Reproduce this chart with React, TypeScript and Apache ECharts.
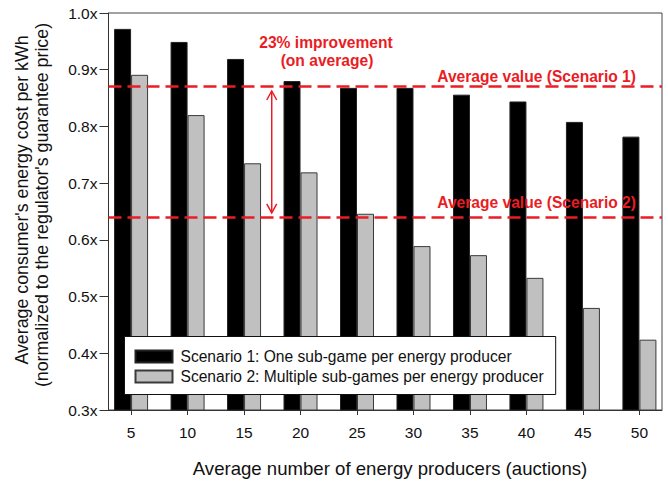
import React, { useEffect, useRef } from "react";
import * as echarts from "echarts";

const producers = [5, 10, 15, 20, 25, 30, 35, 40, 45, 50];
const scenario1 = [0.972, 0.949, 0.919, 0.880, 0.868, 0.868, 0.856, 0.844, 0.808, 0.782];
const scenario2 = [0.891, 0.820, 0.735, 0.719, 0.646, 0.589, 0.573, 0.533, 0.480, 0.424];
const avgScenario1 = 0.866;
const avgScenario2 = 0.644;
const arrowX = 17.45;

const seriesNames = [
  "Scenario 1: One sub-game per energy producer",
  "Scenario 2: Multiple sub-games per energy producer",
];

const FONT = "'Liberation Sans', Arial, sans-serif";
const RED = "#ea1c24";

export default function App() {
  const ref = useRef<HTMLDivElement>(null);
  useEffect(() => {
    if (!ref.current) return;
    const chart = echarts.init(ref.current, null, { renderer: "svg" });
    const redText = (text: string, x: number, y: number, align: string) => ({
      type: "text",
      x,
      y,
      z: 100,
      style: {
        text,
        fill: RED,
        font: `bold 15.6px ${FONT}`,
        textAlign: align,
        textVerticalAlign: "middle",
      },
    });
    const option: any = {
      animation: false,
      textStyle: { fontFamily: FONT },
      grid: {
        left: 108.5,
        right: 6,
        top: 13,
        bottom: 73,
        show: true,
        borderColor: "#444",
        borderWidth: 1,
        backgroundColor: "transparent",
      },
      legend: {
        orient: "vertical",
        left: 124.5,
        top: 336.5,
        itemWidth: 37,
        itemHeight: 12,
        itemGap: 4,
        padding: [12, 12, 10, 10],
        backgroundColor: "#fff",
        borderColor: "#111",
        borderWidth: 1,
        borderRadius: 0,
        icon: "rect",
        z: 50,
        textStyle: {
          fontSize: 15.6,
          lineHeight: 16,
          color: "#111",
          fontFamily: FONT,
          padding: [0, 0, 0, 3],
        },
        data: seriesNames,
      },
      xAxis: {
        type: "value",
        min: 3,
        max: 52,
        splitLine: { show: false },
        axisLine: { show: true, lineStyle: { color: "#333", width: 1 } },
        axisTick: {
          show: true,
          length: 5,
          lineStyle: { color: "#333" },
          customValues: producers,
        },
        axisLabel: {
          fontSize: 15.5,
          color: "#111",
          margin: 14,
          fontFamily: FONT,
          customValues: producers,
        },
      },
      yAxis: {
        type: "value",
        min: 0.3,
        max: 1.0,
        interval: 0.1,
        splitLine: { show: false },
        axisLine: { show: true, lineStyle: { color: "#333", width: 1 } },
        axisTick: { show: true, length: 9, lineStyle: { color: "#333" } },
        axisLabel: {
          fontSize: 15.5,
          color: "#111",
          margin: 11,
          fontFamily: FONT,
          formatter: (v: number) => v.toFixed(1) + "x",
        },
      },
      series: [
        {
          name: seriesNames[0],
          type: "bar",
          barWidth: 17,
          barGap: "0%",
          itemStyle: { color: "#000", borderColor: "#222", borderWidth: 1 },
          data: producers.map((p, i) => [p, scenario1[i]]),
          markLine: {
            silent: true,
            symbol: "none",
            label: { show: false },
            lineStyle: { color: RED, width: 2.5, type: [13, 6] },
            data: [{ yAxis: avgScenario1 }, { yAxis: avgScenario2 }],
          },
          z: 2,
        },
        {
          name: seriesNames[1],
          type: "bar",
          barWidth: 17,
          barGap: "0%",
          itemStyle: { color: "#c0c0c0", borderColor: "#3a3a3a", borderWidth: 1 },
          data: producers.map((p, i) => [p, scenario2[i]]),
          z: 2,
        },
        {
          type: "custom",
          silent: true,
          z: 5,
          data: [[arrowX, avgScenario1, avgScenario2]],
          encode: { x: 0, y: [1, 2] },
          renderItem: (params: any, api: any) => {
            const top = api.coord([api.value(0), api.value(1)]);
            const bot = api.coord([api.value(0), api.value(2)]);
            const x = top[0];
            const y1 = top[1] + 2;
            const y2 = bot[1] - 2;
            const hw = 5;
            const hh = 9;
            const style = { stroke: RED, lineWidth: 1.5, fill: "none" };
            return {
              type: "group",
              children: [
                { type: "line", shape: { x1: x, y1: y1, x2: x, y2: y2 }, style },
                {
                  type: "polyline",
                  shape: { points: [[x - hw, y1 + hh], [x, y1], [x + hw, y1 + hh]] },
                  style,
                },
                {
                  type: "polyline",
                  shape: { points: [[x - hw, y2 - hh], [x, y2], [x + hw, y2 - hh]] },
                  style,
                },
              ],
            };
          },
        },
      ],
      graphic: [
        redText("23% improvement", 326, 42, "center"),
        redText("(on average)", 327, 60, "center"),
        redText("Average value (Scenario 1)", 636, 76, "right"),
        redText("Average value (Scenario 2)", 636, 202, "right"),
        {
          type: "text",
          x: 22,
          y: 200,
          z: 100,
          rotation: Math.PI / 2,
          style: {
            text: "Average consumer's energy cost per kWh",
            fill: "#111",
            font: `17.8px ${FONT}`,
            textAlign: "center",
            textVerticalAlign: "middle",
          },
        },
        {
          type: "text",
          x: 42,
          y: 205,
          z: 100,
          rotation: Math.PI / 2,
          style: {
            text: "(normalized to the regulator's guarantee price)",
            fill: "#111",
            font: `17.8px ${FONT}`,
            textAlign: "center",
            textVerticalAlign: "middle",
          },
        },
        {
          type: "text",
          x: 390,
          y: 468,
          z: 100,
          style: {
            text: "Average number of energy producers (auctions)",
            fill: "#111",
            font: `18.6px ${FONT}`,
            textAlign: "center",
            textVerticalAlign: "middle",
          },
        },
      ],
    };
    chart.setOption(option);
    return () => chart.dispose();
  }, []);
  return <div ref={ref} style={{ width: 668, height: 483, position: "absolute", left: 0, top: 0 }} />;
}
